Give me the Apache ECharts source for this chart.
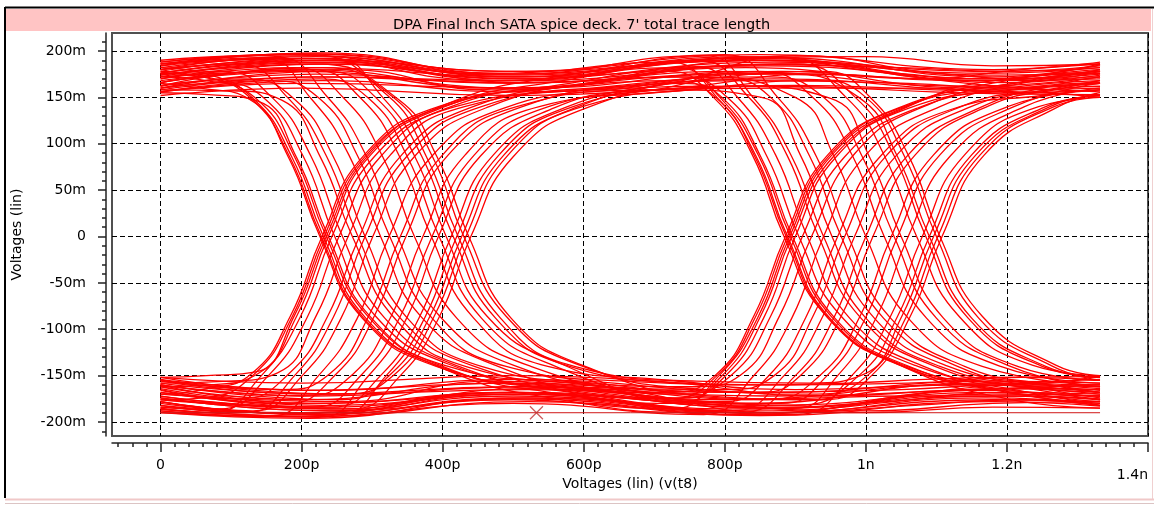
<!DOCTYPE html>
<html><head><meta charset="utf-8">
<script src="https://cdn.jsdelivr.net/npm/echarts@6/dist/echarts.min.js"></script>
<style>html,body{margin:0;padding:0;background:#fff}#c{width:1154px;height:506px}</style>
</head><body><div id="c"></div><script>
// ---- texts ----
const chartTitle = "DPA Final Inch SATA spice deck. 7' total trace length";
const xAxisName = 'Voltages (lin) (v(t8)';
const yAxisName = 'Voltages (lin)';
// ---- ticks (x in ps, y in mV) ----
const xTickValues = [0, 200, 400, 600, 800, 1000, 1200, 1400];
const xTickLabels = ['0', '200p', '400p', '600p', '800p', '1n', '1.2n', '1.4n'];
const yTickValues = [-200, -150, -100, -50, 0, 50, 100, 150, 200];
const yTickLabels = ['-200m', '-150m', '-100m', '-50m', '0', '50m', '100m', '150m', '200m'];
// ---- traces: [time ps, voltage mV] ----
const tracesHHH = [
 [[0,188],[200,197],[490,178],[850,196],[1180,180],[1332,188]],
 [[0,182],[220,194],[500,172],[860,193],[1180,172],[1332,185]],
 [[0,176],[210,190],[480,175],[840,190],[1170,176],[1332,182]],
 [[0,170],[230,186],[500,170],[870,188],[1190,174],[1332,178]],
 [[0,178],[210,192],[490,174],[850,190],[1180,178],[1332,184]],
 [[0,160],[220,172],[500,166],[860,176],[1180,168],[1332,170]],
 [[0,186],[200,192],[470,168],[840,192],[1170,170],[1332,186]],
 [[0,174],[240,188],[520,166],[880,186],[1200,166],[1332,174]],
 [[0,166],[200,178],[480,160],[830,182],[1160,160],[1332,166]],
 [[0,156],[230,168],[500,156],[870,170],[1180,158],[1332,160]],
 [[0,184],[180,196],[500,168],[820,194],[1170,168],[1332,180]],
 [[0,162],[210,182],[510,172],[860,184],[1190,162],[1332,156]],
 [[0,172],[260,180],[470,158],[800,178],[1150,162],[1332,172]],
 [[0,152],[200,160],[500,152],[850,162],[1180,154],[1332,153]]
];
const tracesLLL = [
 [[0,-186],[220,-194],[520,-178],[850,-193],[1180,-178],[1332,-183]],
 [[0,-180],[200,-191],[500,-172],[860,-190],[1170,-174],[1332,-180]],
 [[0,-174],[240,-188],[490,-170],[840,-188],[1190,-172],[1332,-176]],
 [[0,-166],[230,-184],[510,-168],[870,-185],[1180,-170],[1332,-172]],
 [[0,-178],[220,-192],[500,-174],[850,-190],[1180,-176],[1332,-178]],
 [[0,-156],[220,-170],[500,-162],[860,-172],[1180,-164],[1332,-160]],
 [[0,-184],[200,-190],[480,-168],[840,-190],[1170,-168],[1332,-182]],
 [[0,-172],[240,-186],[520,-164],[880,-184],[1200,-164],[1332,-170]],
 [[0,-162],[200,-176],[480,-158],[830,-180],[1160,-158],[1332,-164]],
 [[0,-154],[230,-166],[500,-154],[870,-168],[1180,-156],[1332,-158]],
 [[0,-188],[180,-194],[500,-168],[820,-192],[1170,-166],[1332,-176]],
 [[0,-160],[210,-180],[510,-170],[860,-182],[1190,-160],[1332,-154]],
 [[0,-170],[260,-178],[470,-156],[800,-176],[1150,-160],[1332,-168]],
 [[0,-152],[200,-158],[500,-150],[850,-160],[1180,-152],[1332,-151]]
];
const tracesHLH = [
 [[0,165],[56,160],[126,148],[181,86],[226,0],[286,-88],[391,-140],[560,-162],[720,-168],[786,-150],[841,-86],[886,0],[946,88],[1051,140],[1200,164],[1332,172]],
 [[0,178],[77,170],[147,149],[202,87],[247,0],[305,-86],[410,-138],[580,-166],[740,-174],[800,-151],[855,-88],[900,0],[958,86],[1063,139],[1210,158],[1332,165]],
 [[0,158],[102,157],[172,147],[227,85],[272,0],[334,-90],[437,-141],[600,-158],[760,-162],[823,-149],[878,-85],[923,0],[985,90],[1088,142],[1230,168],[1332,178]],
 [[0,184],[150,191],[212,150],[267,88],[312,0],[370,-87],[475,-139],[640,-170],[800,-178],[860,-152],[915,-87],[960,0],[1020,86],[1125,138],[1250,152],[1332,158]],
 [[0,170],[190,182],[260,149],[315,86],[360,0],[420,-88],[525,-140],[700,-165],[850,-168],[910,-148],[965,-86],[1010,0],[1070,88],[1175,141],[1280,160],[1332,168]],
 [[0,160],[235,178],[305,150],[360,87],[405,0],[463,-86],[570,-138],[760,-182],[900,-185],[960,-150],[1015,-87],[1060,0],[1120,87],[1225,140],[1332,160]],
 [[0,188],[210,196],[322,152],[377,86],[422,0],[482,-88],[587,-140],[760,-156],[920,-158],[996,-149],[1051,-86],[1096,0],[1156,88],[1261,140],[1332,152]],
 [[0,174],[220,186],[337,148],[392,86],[437,0],[497,-88],[602,-140],[780,-172],[940,-176],[1008,-150],[1063,-86],[1108,0],[1168,88],[1273,140],[1332,155]],
 [[0,172],[65,168],[135,149],[190,86],[235,0],[295,-87],[400,-140],[570,-170],[730,-180],[795,-151],[850,-87],[895,0],[955,87],[1060,140],[1200,170],[1332,176]],
 [[0,180],[110,186],[180,150],[235,87],[280,0],[340,-88],[445,-140],[620,-163],[800,-165],[870,-150],[925,-86],[970,0],[1030,88],[1135,140],[1260,158],[1332,162]],
 [[0,156],[225,170],[295,149],[350,86],[395,0],[455,-88],[560,-140],[740,-176],[880,-180],[945,-150],[1000,-87],[1045,0],[1105,88],[1210,140],[1332,165]],
 [[0,166],[230,182],[330,150],[385,87],[430,0],[490,-86],[595,-139],[770,-165],[930,-170],[1002,-150],[1057,-87],[1102,0],[1162,88],[1267,140],[1332,150]]
];
const tracesHLL = [
 [[0,182],[61,176],[131,149],[186,86],[231,0],[291,-88],[396,-140],[560,-165],[800,-182],[1000,-188],[1180,-180],[1332,-178]],
 [[0,155],[68,153],[138,146],[193,85],[238,0],[298,-87],[403,-139],[580,-158],[820,-168],[1050,-165],[1200,-160],[1332,-162]],
 [[0,175],[88,178],[158,150],[213,87],[258,0],[318,-88],[423,-140],[600,-170],[830,-186],[1030,-178],[1200,-168],[1332,-170]],
 [[0,163],[120,170],[190,148],[245,86],[290,0],[350,-88],[455,-140],[640,-160],[860,-175],[1060,-172],[1220,-172],[1332,-175]],
 [[0,186],[166,193],[236,151],[291,88],[336,0],[396,-86],[501,-139],[680,-168],[880,-190],[1070,-182],[1220,-176],[1332,-182]],
 [[0,168],[214,180],[284,149],[339,86],[384,0],[444,-88],[549,-140],[720,-155],[900,-165],[1100,-160],[1250,-158],[1332,-150]],
 [[0,176],[58,172],[128,149],[183,86],[228,0],[288,-88],[393,-140],[560,-175],[780,-190],[1000,-190],[1180,-184],[1332,-185]],
 [[0,158],[155,168],[225,149],[280,86],[325,0],[385,-88],[490,-140],[660,-156],[860,-160],[1060,-158],[1220,-152],[1332,-155]],
 [[0,180],[245,192],[315,150],[370,87],[415,0],[475,-88],[580,-140],[760,-160],[940,-172],[1120,-166],[1260,-164],[1332,-168]]
];
const tracesLHL = [
 [[0,-170],[59,-165],[129,-148],[184,-86],[229,0],[289,88],[394,140],[560,160],[760,172],[900,150],[955,86],[1000,0],[1060,-88],[1165,-140],[1332,-160]],
 [[0,-185],[73,-190],[143,-150],[198,-87],[243,0],[303,86],[408,139],[580,165],[720,178],[784,150],[839,88],[884,0],[944,-86],[1049,-139],[1200,-165],[1332,-172]],
 [[0,-158],[96,-156],[166,-147],[221,-85],[266,0],[326,88],[431,140],[620,158],[820,162],[950,149],[1005,86],[1050,0],[1110,-88],[1215,-140],[1332,-155]],
 [[0,-178],[131,-188],[201,-150],[256,-88],[301,0],[361,87],[466,140],[640,170],[760,183],[817,151],[872,88],[917,0],[977,-88],[1082,-140],[1230,-168],[1332,-178]],
 [[0,-165],[178,-180],[248,-149],[303,-86],[348,0],[408,88],[513,140],[700,166],[880,175],[990,150],[1045,86],[1090,0],[1150,-88],[1255,-140],[1332,-152]],
 [[0,-190],[224,-195],[294,-151],[349,-88],[394,0],[454,87],[559,139],[680,160],[740,165],[796,150],[851,86],[896,0],[956,-88],[1061,-140],[1220,-170],[1332,-182]],
 [[0,-160],[257,-176],[327,-148],[382,-86],[427,0],[487,88],[592,140],[720,158],[852,150],[907,88],[952,0],[1012,-88],[1117,-140],[1260,-160],[1332,-166]],
 [[0,-176],[270,-186],[340,-150],[395,-87],[440,0],[500,86],[605,139],[800,172],[940,178],[1005,151],[1060,88],[1105,0],[1165,-86],[1270,-139],[1332,-150]],
 [[0,-162],[68,-160],[138,-148],[193,-86],[238,0],[298,88],[403,140],[570,168],[730,182],[793,150],[848,87],[893,0],[953,-88],[1058,-140],[1200,-160],[1332,-168]],
 [[0,-182],[120,-190],[190,-150],[245,-87],[290,0],[350,87],[455,140],[640,162],[860,172],[940,150],[995,86],[1040,0],[1100,-88],[1205,-140],[1332,-162]],
 [[0,-172],[215,-184],[285,-149],[340,-86],[385,0],[445,88],[550,140],[700,158],[800,170],[865,150],[920,87],[965,0],[1025,-88],[1130,-140],[1260,-165],[1332,-174]],
 [[0,-155],[260,-170],[333,-148],[388,-86],[433,0],[493,88],[598,140],[780,160],[930,168],[1000,150],[1055,86],[1100,0],[1160,-88],[1265,-140],[1332,-155]]
];
const tracesLHH = [
 [[0,-152],[65,-150],[135,-146],[190,-85],[235,0],[295,88],[400,140],[580,162],[850,185],[1050,182],[1200,178],[1332,182]],
 [[0,-182],[83,-186],[153,-150],[208,-87],[253,0],[313,87],[418,140],[600,158],[850,168],[1060,165],[1200,160],[1332,165]],
 [[0,-168],[112,-175],[182,-148],[237,-86],[282,0],[342,88],[447,141],[620,166],[860,190],[1040,176],[1200,170],[1332,175]],
 [[0,-188],[154,-194],[224,-150],[279,-88],[324,0],[384,86],[489,139],[660,160],[880,178],[1080,170],[1220,180],[1332,186]],
 [[0,-160],[202,-172],[272,-149],[327,-86],[372,0],[432,88],[537,140],[700,155],[900,163],[1100,158],[1250,155],[1332,150]],
 [[0,-175],[242,-184],[312,-150],[367,-87],[412,0],[472,88],[577,140],[740,168],[900,195],[1100,176],[1250,170],[1332,178]],
 [[0,-176],[62,-174],[132,-149],[187,-86],[232,0],[292,88],[397,140],[560,172],[800,190],[1000,194],[1180,184],[1332,186]],
 [[0,-155],[170,-165],[240,-148],[295,-86],[340,0],[400,88],[505,140],[680,158],[880,160],[1080,160],[1220,155],[1332,158]],
 [[0,-184],[250,-192],[320,-150],[375,-87],[420,0],[480,88],[585,140],[760,162],[940,175],[1120,168],[1260,172],[1332,180]]
];
const tracesHHL = [
 [[0,180],[210,195],[480,176],[720,188],[789,150],[844,87],[889,0],[949,-88],[1054,-140],[1200,-168],[1332,-180]],
 [[0,162],[220,175],[500,165],[735,172],[805,149],[860,86],[905,0],[965,-86],[1070,-139],[1220,-160],[1332,-165]],
 [[0,172],[200,188],[520,170],[760,190],[833,151],[888,88],[933,0],[993,-88],[1098,-140],[1240,-165],[1332,-172]],
 [[0,186],[230,198],[500,172],[800,196],[875,150],[930,86],[975,0],[1035,-88],[1140,-140],[1260,-160],[1332,-168]],
 [[0,156],[200,165],[520,160],[850,178],[926,149],[981,87],[1026,0],[1086,-88],[1191,-140],[1332,-158]],
 [[0,176],[240,190],[500,178],[880,194],[972,150],[1027,86],[1072,0],[1132,-86],[1237,-139],[1332,-150]],
 [[0,166],[200,180],[500,160],[720,168],[787,150],[842,87],[887,0],[947,-88],[1052,-140],[1200,-175],[1332,-185]],
 [[0,190],[220,197],[500,175],[770,195],[840,150],[895,86],[940,0],[1000,-88],[1105,-140],[1240,-158],[1332,-160]],
 [[0,160],[240,172],[500,168],[900,186],[985,150],[1040,87],[1085,0],[1145,-88],[1250,-140],[1332,-152]]
];
const tracesLLH = [
 [[0,-178],[210,-192],[500,-176],[722,-186],[792,-150],[847,-87],[892,0],[952,88],[1057,140],[1200,168],[1332,180]],
 [[0,-160],[220,-172],[520,-162],[740,-170],[810,-149],[865,-86],[910,0],[970,86],[1075,139],[1220,160],[1332,166]],
 [[0,-186],[200,-194],[500,-180],[770,-192],[840,-151],[895,-88],[940,0],[1000,88],[1105,140],[1240,168],[1332,176]],
 [[0,-168],[230,-182],[520,-170],[810,-188],[884,-150],[939,-86],[984,0],[1044,88],[1149,140],[1270,160],[1332,168]],
 [[0,-152],[200,-166],[500,-158],[860,-176],[936,-149],[991,-87],[1036,0],[1096,88],[1201,140],[1332,158]],
 [[0,-174],[240,-188],[520,-174],[900,-192],[980,-150],[1035,-86],[1080,0],[1140,88],[1245,140],[1332,150]],
 [[0,-164],[220,-180],[500,-168],[720,-175],[789,-150],[844,-86],[889,0],[949,88],[1054,140],[1200,160],[1332,168]],
 [[0,-190],[210,-196],[500,-175],[820,-190],[900,-150],[955,-87],[1000,0],[1060,88],[1165,140],[1280,165],[1332,172]],
 [[0,-158],[230,-170],[520,-165],[900,-182],[990,-150],[1045,-86],[1090,0],[1150,88],[1255,140],[1332,152]]
];
const flatTrace = [[0,-190],[1332,-190]];
const cursorPoint = [[533,-190]];

// ---- build chart ----
const FONT = 'DejaVu Sans';
const RED = '#ff0000';
const xMinorTicks = []; for (let v = -60; v <= 1400; v += 20) xMinorTicks.push(v);
const yMinorTicks = []; for (let v = -210; v <= 210; v += 10) yMinorTicks.push(v);
const xLabelOf = v => { const i = xTickValues.indexOf(v); return i >= 0 ? xTickLabels[i] : ''; };
const yLabelOf = v => { const i = yTickValues.indexOf(v); return i >= 0 ? yTickLabels[i] : ''; };

const allTraces = [].concat(tracesHHH, tracesLLL, tracesHLH, tracesHLL, tracesLHL, tracesLHH, tracesHHL, tracesLLH);
const series = allTraces.map(tr => ({
  type: 'line', data: tr, xAxisIndex: 0, yAxisIndex: 0,
  smooth: 0.5, showSymbol: false, symbol: 'none', silent: true,
  lineStyle: { color: RED, width: 1.3 }
}));
series.push({ type: 'line', data: flatTrace, showSymbol: false, symbol: 'none', silent: true,
  lineStyle: { color: '#d01818', width: 1 } });
series.push({ type: 'scatter', data: cursorPoint, silent: true, z: 10,
  symbol: 'path://M0,0L10,10M10,0L0,10', symbolSize: 13,
  itemStyle: { color: 'rgba(0,0,0,0)', borderColor: '#c03030', borderWidth: 1.2 } });

const chart = echarts.init(document.getElementById('c'));
chart.setOption({
  animation: false,
  backgroundColor: '#fff',
  title: { text: chartTitle, left: 388, top: 12,
    textStyle: { fontFamily: FONT, fontSize: 14.5, fontWeight: 'normal', color: '#000', lineHeight: 16 } },
  grid: { left: 112, top: 33, right: 6, bottom: 70, show: true, borderColor: '#505050', borderWidth: 2,
    backgroundColor: 'rgba(0,0,0,0)', outerBoundsMode: 'none', containLabel: false },
  xAxis: [{
    type: 'value', min: -68.76, max: 1400, position: 'bottom', offset: 7,
    name: xAxisName, nameLocation: 'middle', nameGap: 34,
    nameTextStyle: { fontFamily: FONT, fontSize: 14, color: '#000' },
    axisLine: { show: true, onZero: false, lineStyle: { color: '#222', width: 1.5 } },
    axisTick: { show: true, length: 9, customValues: xTickValues, lineStyle: { color: '#222', width: 1.5 } },
    axisLabel: { customValues: xTickValues.slice(0, 7), margin: 15, fontFamily: FONT, fontSize: 14, color: '#000', formatter: xLabelOf },
    splitLine: { show: true, lineStyle: { color: '#000', type: [5, 3], width: 1 } }
  }, {
    type: 'value', min: -68.76, max: 1400, position: 'bottom', offset: 7,
    axisLine: { show: false, onZero: false },
    axisTick: { show: true, length: 4, customValues: xMinorTicks, lineStyle: { color: '#222', width: 1.5 } },
    axisLabel: { show: false }, splitLine: { show: false }
  }],
  yAxis: [{
    type: 'value', min: -215.1, max: 219.4, position: 'left', offset: 6,
    name: yAxisName, nameLocation: 'middle', nameGap: 82,
    nameTextStyle: { fontFamily: FONT, fontSize: 14, color: '#000' },
    axisLine: { show: true, onZero: false, lineStyle: { color: '#222', width: 1.5 } },
    axisTick: { show: true, length: 8, customValues: yTickValues, lineStyle: { color: '#222', width: 1.5 } },
    axisLabel: { customValues: yTickValues, margin: 20, fontFamily: FONT, fontSize: 14, color: '#000', formatter: yLabelOf },
    splitLine: { show: true, lineStyle: { color: '#000', type: [5, 3], width: 1 } }
  }, {
    type: 'value', min: -215.1, max: 219.4, position: 'left', offset: 6,
    axisLine: { show: false, onZero: false },
    axisTick: { show: true, length: 4, customValues: yMinorTicks, lineStyle: { color: '#222', width: 1.5 } },
    axisLabel: { show: false }, splitLine: { show: false }
  }],
  graphic: [
    { type: 'rect', z: -10, shape: { x: 6, y: 9, width: 1145, height: 22 }, style: { fill: '#ffc4c4' } },
    { type: 'line', shape: { x1: 5, y1: 7.5, x2: 1154, y2: 7.5 }, style: { stroke: '#000', lineWidth: 2 } },
    { type: 'line', shape: { x1: 5, y1: 7, x2: 5, y2: 498 }, style: { stroke: '#000', lineWidth: 2 } },
    { type: 'line', shape: { x1: 1152.5, y1: 9, x2: 1152.5, y2: 499 }, style: { stroke: '#f0d0d0', lineWidth: 1 } },
    { type: 'line', shape: { x1: 5, y1: 499.5, x2: 1154, y2: 499.5 }, style: { stroke: '#f0c8c8', lineWidth: 2 } },
    { type: 'line', shape: { x1: 5, y1: 503.5, x2: 1154, y2: 503.5 }, style: { stroke: '#dcc4c4', lineWidth: 1 } },
    { type: 'text', style: { text: xTickLabels[7], x: 1148, y: 475, align: 'right', verticalAlign: 'middle',
      font: '14px "DejaVu Sans"', fill: '#000' } }
  ],
  series: series
});
</script></body></html>
